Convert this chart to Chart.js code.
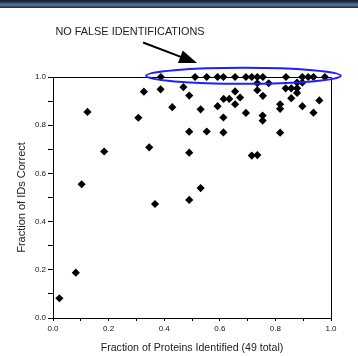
<!DOCTYPE html>
<html>
<head>
<meta charset="utf-8">
<script src="https://cdn.jsdelivr.net/npm/chart.js@4/dist/chart.umd.min.js"></script>
<style>
  body { margin: 0; background: #fff; }
  #bar {
    position: absolute; left: 0; top: 0; width: 358px; height: 8px;
    background: linear-gradient(#101a28 0%, #2a3c55 30%, #5a7596 55%, #3d5474 80%, #1c2636 100%);
  }
  #wrap { position: relative; width: 358px; height: 356px; }
</style>
</head>
<body>
<div id="wrap">
  <canvas id="myChart" width="358" height="356"></canvas>
  <div id="bar"></div>
</div>
<script>
// proteins with no false identifications (fraction correct = 1.0)
const perfectX = [0.388, 0.511, 0.553, 0.592, 0.613, 0.655, 0.694, 0.715, 0.735, 0.755, 0.838, 0.897, 0.918, 0.937, 0.978];

// all the other runs
const otherX = [0.023, 0.082, 0.103, 0.124, 0.184, 0.307, 0.327, 0.346, 0.367, 0.387,
    0.429, 0.469, 0.490, 0.490, 0.490, 0.490, 0.531, 0.531, 0.553, 0.592,
    0.614, 0.634, 0.613, 0.613, 0.655, 0.655, 0.673, 0.694, 0.715, 0.735,
    0.735, 0.735, 0.755, 0.754, 0.754, 0.776, 0.817, 0.817, 0.817, 0.837,
    0.857, 0.857, 0.878, 0.878, 0.878, 0.897, 0.897, 0.937, 0.958];
const otherY = [0.082, 0.188, 0.555, 0.855, 0.691, 0.831, 0.939, 0.708, 0.473, 0.949,
    0.875, 0.958, 0.923, 0.773, 0.686, 0.490, 0.866, 0.539, 0.774, 0.879,
    0.909, 0.909, 0.832, 0.770, 0.940, 0.887, 0.915, 0.851, 0.674, 0.676,
    0.945, 0.974, 0.922, 0.840, 0.819, 0.974, 0.887, 0.868, 0.769, 0.953,
    0.953, 0.912, 0.977, 0.953, 0.934, 0.977, 0.879, 0.852, 0.903];

const xTitle = "Fraction of Proteins Identified (49 total)";
const yTitle = "Fraction of IDs Correct";
const note = "NO FALSE IDENTIFICATIONS";

const FONT = "'Liberation Sans', Arial, sans-serif";

const points = [];
perfectX.forEach((x) => points.push({ x: x, y: 1.0 }));
otherX.forEach((x, i) => points.push({ x: x, y: otherY[i] }));

// label every other tick (0.0, 0.2, ...)
const evenLabel = (v) => (Math.round(v * 10) % 2 === 0 ? v.toFixed(1) : "");

// box around the plot + the blue ellipse, arrow and note
const extras = {
    id: "extras",
    beforeDatasetsDraw(chart) {
        const { ctx, chartArea: a } = chart;
        ctx.save();
        ctx.strokeStyle = "#000";
        ctx.lineWidth = 1;
        ctx.beginPath();
        ctx.moveTo(a.left, a.top + 0.5);
        ctx.lineTo(a.right + 0.5, a.top + 0.5);
        ctx.lineTo(a.right + 0.5, a.bottom);
        ctx.stroke();
        ctx.restore();
    },
    afterDatasetsDraw(chart) {
        const { ctx, scales: { x, y } } = chart;
        ctx.save();
        // ellipse round the 1.0 row
        const cx = x.getPixelForValue(0.685);
        const cy = y.getPixelForValue(1.005);
        const rx = x.getPixelForValue(0.35) - x.getPixelForValue(0);
        const ry = y.getPixelForValue(0) - y.getPixelForValue(0.033);
        ctx.strokeStyle = "#1f1fff";
        ctx.lineWidth = 2;
        ctx.beginPath();
        ctx.ellipse(cx, cy, rx, ry, 0, 0, Math.PI * 2);
        ctx.stroke();

        // arrow
        const x0 = x.getPixelForValue(0.324), y0 = y.getPixelForValue(1.143);
        const x1 = x.getPixelForValue(0.518), y1 = y.getPixelForValue(1.058);
        const ang = Math.atan2(y1 - y0, x1 - x0);
        const head = 19, spread = 0.36;
        ctx.strokeStyle = "#000";
        ctx.fillStyle = "#000";
        ctx.lineWidth = 2;
        ctx.beginPath();
        ctx.moveTo(x0, y0);
        ctx.lineTo(x1 - Math.cos(ang) * head * 0.8, y1 - Math.sin(ang) * head * 0.8);
        ctx.stroke();
        ctx.beginPath();
        ctx.moveTo(x1, y1);
        ctx.lineTo(x1 - head * Math.cos(ang - spread), y1 - head * Math.sin(ang - spread));
        ctx.lineTo(x1 - head * Math.cos(ang + spread), y1 - head * Math.sin(ang + spread));
        ctx.closePath();
        ctx.fill();

        // note text
        ctx.font = "10.9px " + FONT;
        ctx.fillStyle = "#222";
        ctx.textAlign = "center";
        ctx.textBaseline = "middle";
        ctx.fillText(note, x.getPixelForValue(0.277), y.getPixelForValue(1.185));
        ctx.restore();
    },
};

const config = {
    type: "scatter",
    data: {
        datasets: [
            {
                data: points,
                pointStyle: "rectRot",
                pointRadius: 3.1,
                pointBackgroundColor: "#000",
                pointBorderColor: "#000",
                pointBorderWidth: 1.4,
                clip: false,
            },
        ],
    },
    options: {
        responsive: false,
        animation: false,
        layout: { padding: { left: 0, right: 27, top: 77, bottom: 0 } },
        plugins: { legend: { display: false }, tooltip: { enabled: false } },
        scales: {
            x: {
                min: 0,
                max: 1,
                afterFit: (s) => { s.height = 38; },
                ticks: { stepSize: 0.1, autoSkip: false, maxRotation: 0, padding: 3, color: "#111",
                    font: { family: FONT, size: 8 }, callback: evenLabel },
                grid: { drawOnChartArea: false, tickLength: 3, color: "#000" },
                border: { color: "#000", width: 1 },
                title: { display: true, text: xTitle, color: "#222",
                    font: { family: FONT, size: 10.6 }, padding: { top: 0, bottom: 2 } },
            },
            y: {
                min: 0,
                max: 1,
                afterFit: (s) => { s.width = 53; },
                ticks: { stepSize: 0.1, autoSkip: false, padding: 2, color: "#111",
                    font: { family: FONT, size: 8 }, callback: evenLabel },
                grid: { drawOnChartArea: false, tickLength: 5, color: "#000" },
                border: { color: "#000", width: 1 },
                title: { display: true, text: yTitle, color: "#222",
                    font: { family: FONT, size: 11 }, padding: { top: 15, bottom: 0 } },
            },
        },
    },
    plugins: [extras],
};

const myChart = new Chart(document.querySelector("#myChart"), config);
</script>
</body>
</html>
